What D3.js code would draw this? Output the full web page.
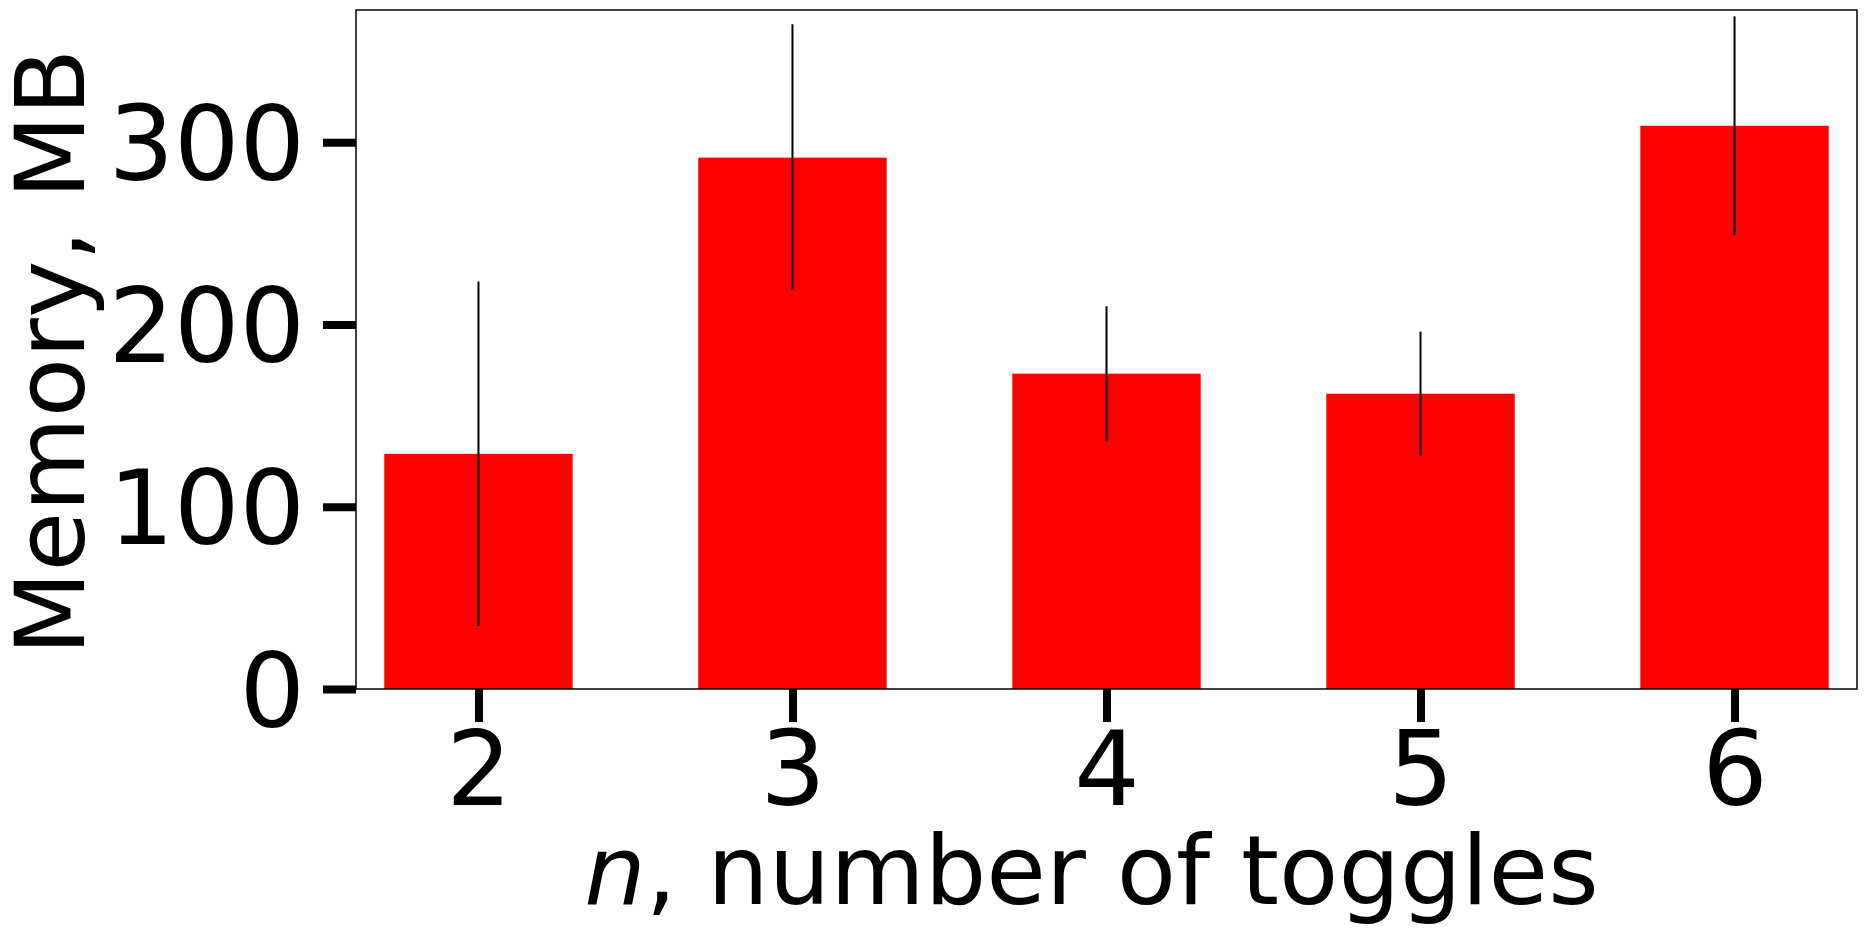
<!DOCTYPE html>
<html><head><meta charset="utf-8">
<script src="https://cdn.jsdelivr.net/npm/d3@7"></script>
<style>body{margin:0;background:#fff}text{font-family:"DejaVu Sans",sans-serif}</style>
</head><body><div id="chart"></div>
<script>
var toggles = [2, 3, 4, 5, 6];
var memory = [129, 291.5, 173, 162, 309];
var errLow = [34.6, 219, 136, 128, 249];
var errHigh = [223.5, 364.7, 210, 196, 369];
var yTicks = [0, 100, 200, 300];

var margin = {top: 10, right: 8, bottom: 244, left: 356},
    width = 1865 - margin.left - margin.right,
    height = 933 - margin.top - margin.bottom;

var svg = d3.select("#chart").append("svg")
    .attr("width", 1865).attr("height", 933)
  .append("g")
    .attr("transform", "translate(" + margin.left + "," + margin.top + ")");

var x = d3.scaleLinear().domain([1.61, 6.39]).range([0, width]);
var y = d3.scaleLinear().domain([0, 372.5]).range([height, 0]);
var bw = x(2.3) - x(2);

// bars
svg.selectAll(".bar").data(toggles).enter().append("rect")
  .attr("x", function(d) { return x(d) - bw; })
  .attr("width", bw * 2)
  .attr("y", function(d, i) { return y(memory[i]); })
  .attr("height", function(d, i) { return height - y(memory[i]); })
  .style("fill", "#ff0000");

// error bars
svg.selectAll(".err").data(toggles).enter().append("line")
  .attr("x1", function(d) { return x(d); }).attr("x2", function(d) { return x(d); })
  .attr("y1", function(d, i) { return y(errLow[i]); })
  .attr("y2", function(d, i) { return y(errHigh[i]); })
  .style("stroke", "#000").style("stroke-width", 2);

// frame
svg.append("rect").attr("width", width).attr("height", height)
  .style("fill", "none").style("stroke", "#000").style("stroke-width", 1.5);

// axes
var xa = svg.append("g").attr("transform", "translate(0," + height + ")")
  .call(d3.axisBottom(x).tickValues(toggles).tickFormat(d3.format("d")).tickSize(33).tickPadding(10));
var ya = svg.append("g")
  .call(d3.axisLeft(y).tickValues(yTicks).tickSize(33).tickPadding(18));
[xa, ya].forEach(function(a) {
  a.select(".domain").remove();
  a.selectAll(".tick line").style("stroke-width", 8);
  a.selectAll(".tick text").style("font-size", "103px").style("font-family", "DejaVu Sans");
});
ya.selectAll(".tick text").attr("dy", "0.36em");

// labels
var xl = svg.append("text")
  .attr("x", width / 2 - 15).attr("y", 904 - margin.top)
  .attr("text-anchor", "middle").style("font-size", "97px");
xl.append("tspan").style("font-style", "italic").text("n");
xl.append("tspan").text(", number of toggles");

svg.append("text")
  .attr("transform", "translate(" + (84 - margin.left) + "," + (352 - margin.top) + ") rotate(-90)")
  .attr("text-anchor", "middle").style("font-size", "97px")
  .text("Memory, MB");
</script></body></html>
